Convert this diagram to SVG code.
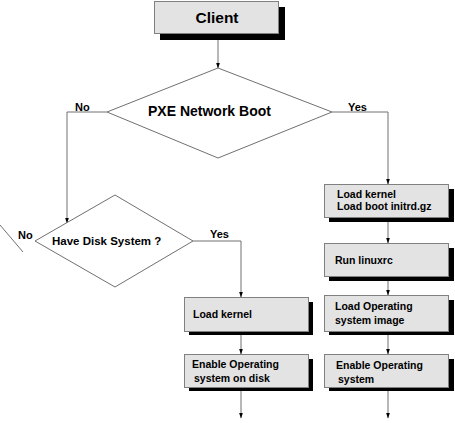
<svg xmlns="http://www.w3.org/2000/svg" width="455" height="423" viewBox="0 0 455 423">
<style>
.box{fill:#e3e3e3;stroke:#808080;stroke-width:1}
.sh{fill:#000}
.dia{fill:#fff;stroke:#707070;stroke-width:1}
.ln{fill:none;stroke:#707070;stroke-width:1}
text{font-family:"Liberation Sans",Arial,sans-serif;font-weight:bold;fill:#000}
.t{font-size:10.5px}
.lbl{font-size:11px}
</style>
<defs>
<marker id="ah" markerWidth="6" markerHeight="8" refX="5.5" refY="3.5" orient="auto" markerUnits="userSpaceOnUse">
<path d="M0,1.5 L6,3.5 L0,5.5 Z" fill="#000"/>
</marker>
</defs>
<rect width="455" height="423" fill="#fff"/>
<g id="connectors">
<path class="ln" d="M218,34 V68" marker-end="url(#ah)"/>
<path class="ln" d="M107,112 H67 V223" marker-end="url(#ah)"/>
<path class="ln" d="M332,112 H388 V184" marker-end="url(#ah)"/>
<path class="ln" d="M193,241 H241 V297" marker-end="url(#ah)"/>
<path class="ln" d="M0,225 L23,252"/>
<path class="ln" d="M241,332 V354" marker-end="url(#ah)"/>
<path class="ln" d="M241,388 V418" marker-end="url(#ah)"/>
<path class="ln" d="M388,219 V243" marker-end="url(#ah)"/>
<path class="ln" d="M388,278 V295" marker-end="url(#ah)"/>
<path class="ln" d="M388,332 V354" marker-end="url(#ah)"/>
<path class="ln" d="M388,388 V418" marker-end="url(#ah)"/>
</g>
<g id="client">
<rect class="sh" x="160" y="7" width="125" height="33"/>
<rect class="box" x="154.5" y="1.5" width="124" height="32"/>
<text x="217" y="23" font-size="15.5" text-anchor="middle">Client</text>
</g>
<g id="pxe">
<polygon class="dia" points="218,68 332,112 218,158 107,112"/>
<text x="148" y="116" font-size="14">PXE Network Boot</text>
<text class="lbl" x="75" y="111">No</text>
<text class="lbl" x="348" y="111">Yes</text>
</g>
<g id="disk">
<polygon class="dia" points="115,195 193,241 115,287 35,241"/>
<text x="52" y="245" font-size="11.5">Have Disk System ?</text>
<text class="lbl" x="18" y="239">No</text>
<text class="lbl" x="210" y="238">Yes</text>
</g>
<g id="loadkernel2">
<rect class="sh" x="329" y="189" width="125" height="33"/>
<rect class="box" x="324.5" y="184.5" width="124" height="33"/>
<text class="t" x="337" y="198">Load kernel</text>
<text class="t" x="337" y="210">Load boot initrd.gz</text>
</g>
<g id="runlinuxrc">
<rect class="sh" x="329" y="248" width="125" height="33"/>
<rect class="box" x="324.5" y="243.5" width="124" height="33"/>
<text class="t" x="335" y="264">Run linuxrc</text>
</g>
<g id="loados">
<rect class="sh" x="329" y="300" width="125" height="35"/>
<rect class="box" x="324.5" y="295.5" width="124" height="36"/>
<text class="t" x="335" y="310">Load Operating</text>
<text class="t" x="335" y="324">system image</text>
</g>
<g id="enableos">
<rect class="sh" x="329" y="359" width="125" height="32"/>
<rect class="box" x="324.5" y="354.5" width="124" height="33"/>
<text class="t" x="336" y="369">Enable Operating</text>
<text class="t" x="338" y="383">system</text>
</g>
<g id="loadkernel1">
<rect class="sh" x="189" y="302" width="124" height="33"/>
<rect class="box" x="184.5" y="297.5" width="124" height="34"/>
<text class="t" x="193" y="318">Load kernel</text>
</g>
<g id="enabledisk">
<rect class="sh" x="189" y="359" width="124" height="32"/>
<rect class="box" x="184.5" y="354.5" width="124" height="33"/>
<text class="t" x="192" y="368">Enable Operating</text>
<text class="t" x="194" y="382">system on disk</text>
</g>
</svg>
